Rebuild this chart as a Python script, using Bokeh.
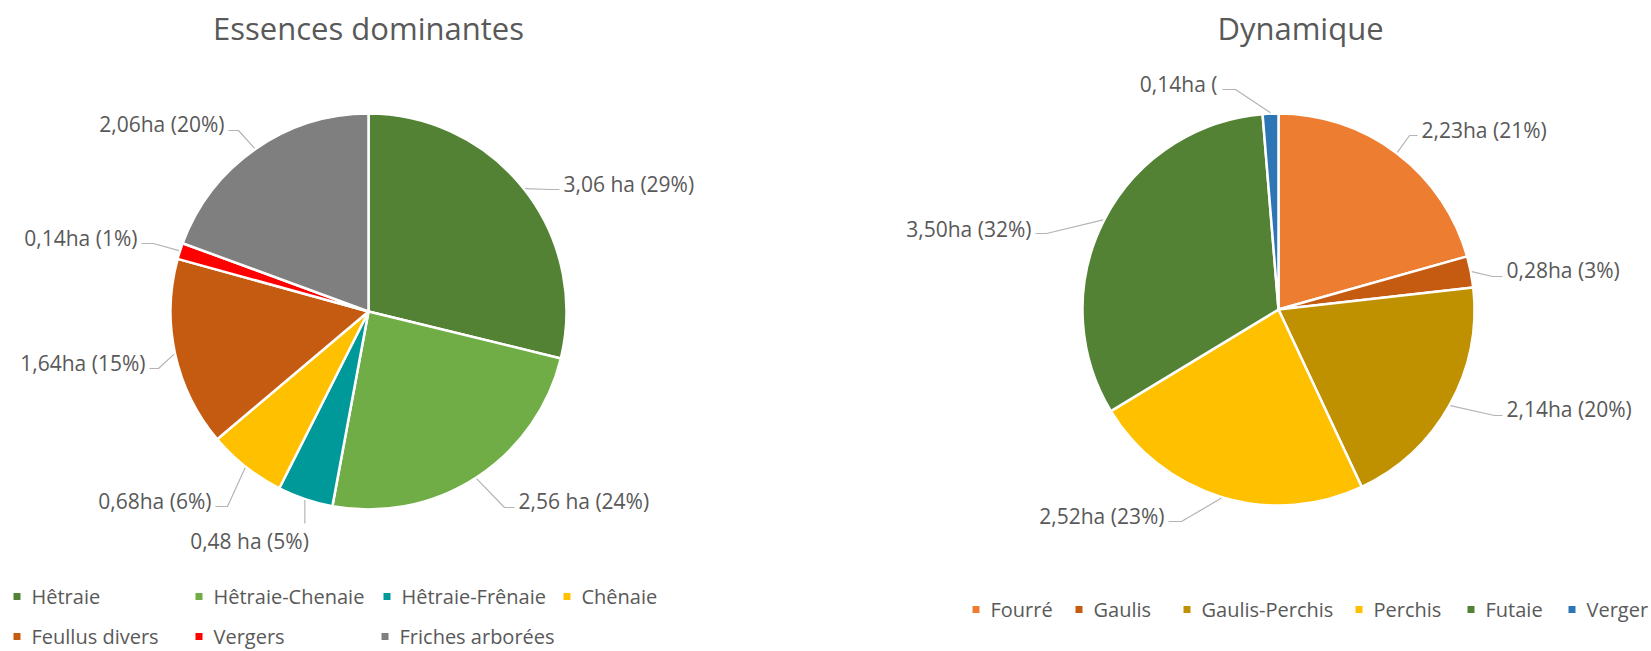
import math
from bokeh.plotting import figure
from bokeh.models import Range1d
from bokeh.core.properties import value
from bokeh.embed import file_html
from bokeh.resources import INLINE

# ---------------- data ----------------
ess_title = "Essences dominantes"
ess_names = ["Hêtraie", "Hêtraie-Chenaie", "Hêtraie-Frênaie", "Chênaie",
             "Feullus divers", "Vergers", "Friches arborées"]
ess_ha = [3.06, 2.56, 0.48, 0.68, 1.64, 0.14, 2.06]
ess_labels = ["3,06 ha (29%)", "2,56 ha (24%)", "0,48 ha (5%)", "0,68ha (6%)",
              "1,64ha (15%)", "0,14ha (1%)", "2,06ha (20%)"]
ess_colors = ["#548235", "#70AD47", "#009999", "#FFC000",
              "#C55A11", "#FF0000", "#7F7F7F"]

dyn_title = "Dynamique"
dyn_names = ["Fourré", "Gaulis", "Gaulis-Perchis", "Perchis", "Futaie", "Verger"]
dyn_ha = [2.23, 0.28, 2.14, 2.52, 3.50, 0.14]
dyn_labels = ["2,23ha (21%)", "0,28ha (3%)", "2,14ha (20%)", "2,52ha (23%)",
              "3,50ha (32%)", "0,14ha ("]
dyn_colors = ["#ED7D31", "#C55A11", "#BF9000", "#FFC000", "#548235", "#2E75B6"]

# ---------------- layout (screen pixels, y down) ----------------
W, H = 1651, 651
FONT = "Open Sans"
TXT = "#595959"
LEAD = "#B4B4B4"

ess_center, ess_r = (368, 311), 198
dyn_center, dyn_r = (1278, 309), 196

ess_lab_layout = [
    (563, 183, "left",   [(550, 189), (559, 189)]),
    (518, 500, "left",   [(504, 507), (514, 507)]),
    (249, 540, "center", None),
    (211, 500, "right",  [(227, 506), (215, 506)]),
    (145, 362, "right",  [(158, 368), (149, 368)]),
    (137, 237, "right",  [(153, 243), (141, 243)]),
    (224, 123, "right",  [(238, 130), (228, 130)]),
]
dyn_lab_layout = [
    (1421, 129, "left",  [(1409, 135), (1417, 135)]),
    (1506, 269, "left",  [(1492, 276), (1502, 276)]),
    (1506, 408, "left",  [(1494, 415), (1502, 415)]),
    (1164, 515, "right", [(1181, 521), (1168, 521)]),
    (1031, 228, "right", [(1046, 233), (1035, 233)]),
    (1217, 83,  "right", [(1235, 89), (1222, 89)]),
]

ess_legend_layout = [(13, 596), (195, 596), (383, 596), (563, 596),
                     (13, 636), (195, 636), (381, 636)]
dyn_legend_layout = [(972, 609), (1075, 609), (1183, 609), (1355, 609),
                     (1467, 609), (1568, 609)]


def sy(y):
    return H - y


p = figure(width=W, height=H, x_range=Range1d(0, W), y_range=Range1d(0, H),
           output_backend="svg", toolbar_location=None, min_border=0)
p.axis.visible = False
p.grid.visible = False
p.outline_line_color = None
p.background_fill_color = "white"
p.border_fill_color = "white"


def draw_pie(center, r, vals, colors, labels, layout):
    total = float(sum(vals))
    cx, cy = center
    starts, ends, mids = [], [], []
    c = 0.0
    for v in vals:
        f0 = c / total
        c += v
        f1 = c / total
        starts.append(math.pi / 2 - 2 * math.pi * f0)
        ends.append(math.pi / 2 - 2 * math.pi * f1)
        mids.append(2 * math.pi * (f0 + f1) / 2)  # clockwise from top
    p.wedge(x=[cx] * len(vals), y=[sy(cy)] * len(vals), radius=r,
            radius_units="screen", start_angle=starts, end_angle=ends,
            direction="clock", fill_color=colors, line_color="white",
            line_width=2.5)
    for lab, m, (tx, ty, al, pts) in zip(labels, mids, layout):
        ex = cx + (r + 1) * math.sin(m)
        ey = cy - (r + 1) * math.cos(m)
        if pts is None:
            pts = [(ex, ty - 17)]
        xs = [ex] + [q[0] for q in pts]
        ys = [sy(ey)] + [sy(q[1]) for q in pts]
        p.line(xs, ys, line_color=LEAD, line_width=1.2)
        p.text(x=[tx], y=[sy(ty)], text=[lab], text_font=value(FONT),
               text_font_size=value("21px"), text_color=TXT,
               text_align=al, text_baseline="middle")


def draw_legend(names, colors, layout):
    for n, col, (lx, ly) in zip(names, colors, layout):
        p.rect(x=[lx + 3.5], y=[sy(ly)], width=7, height=7,
               width_units="screen", height_units="screen",
               fill_color=col, line_color=None)
        p.text(x=[lx + 18], y=[sy(ly)], text=[n], text_font=value(FONT),
               text_font_size=value("20px"), text_color=TXT,
               text_align="left", text_baseline="middle")


draw_pie(ess_center, ess_r, ess_ha, ess_colors, ess_labels, ess_lab_layout)
draw_pie(dyn_center, dyn_r, dyn_ha, dyn_colors, dyn_labels, dyn_lab_layout)
draw_legend(ess_names, ess_colors, ess_legend_layout)
draw_legend(dyn_names, dyn_colors, dyn_legend_layout)

p.text(x=[368], y=[sy(27)], text=[ess_title], text_font=value(FONT),
       text_font_size=value("31px"), text_color=TXT,
       text_align="center", text_baseline="middle")
p.text(x=[1300], y=[sy(27)], text=[dyn_title], text_font=value(FONT),
       text_font_size=value("31px"), text_color=TXT,
       text_align="center", text_baseline="middle")

open("out.html", "w").write(file_html(p, INLINE))
